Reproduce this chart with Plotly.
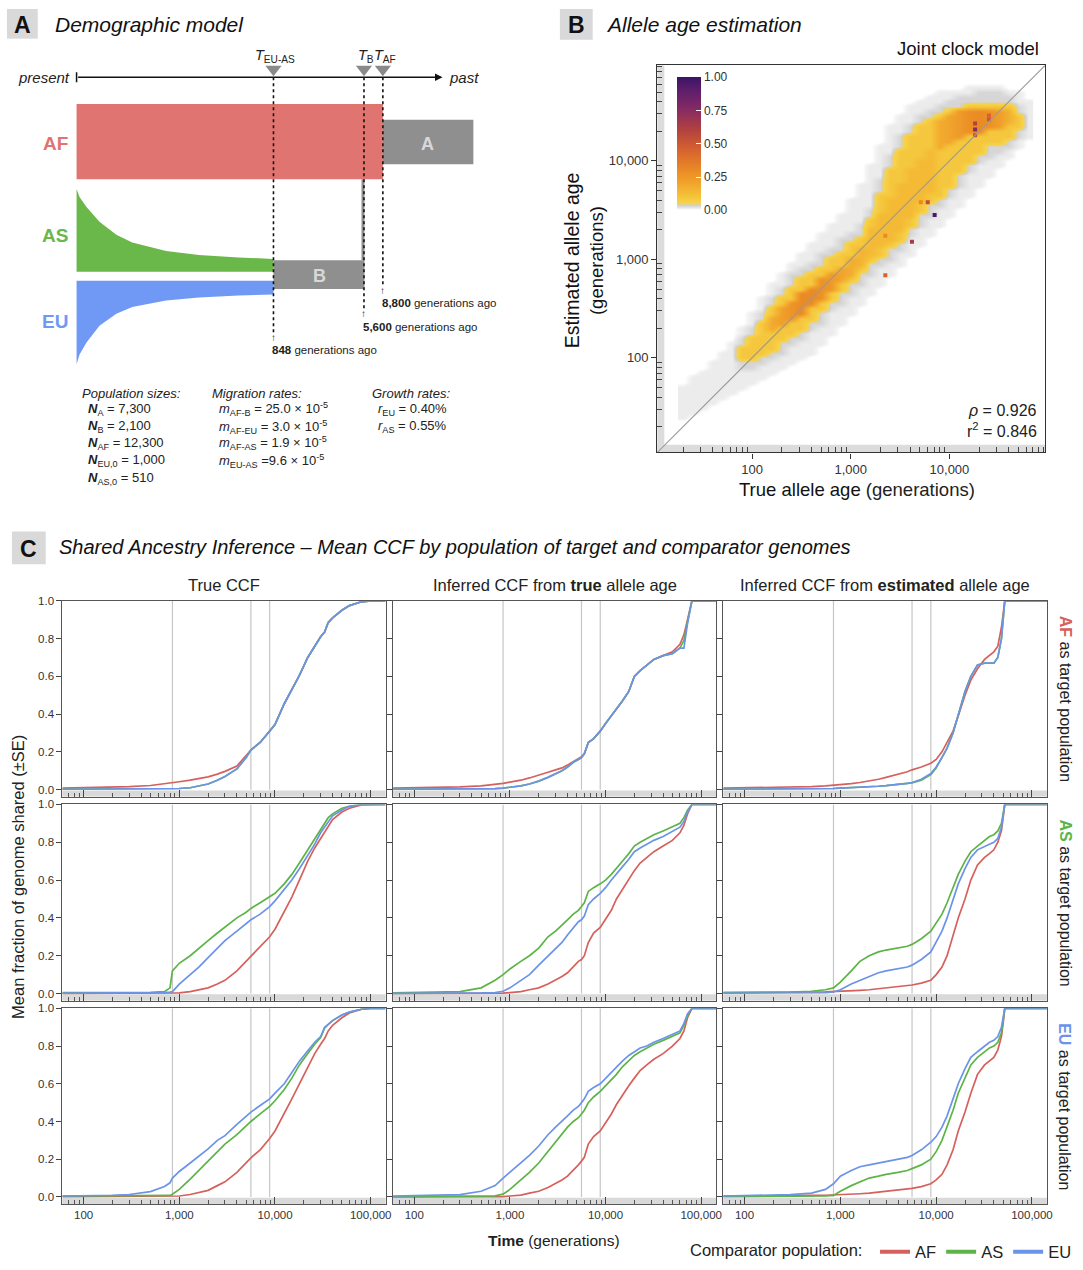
import numpy as np
import plotly.graph_objects as go

W, H = 1083, 1270
FONT = "Liberation Sans, Arial, Helvetica, sans-serif"
INK = "#222222"

# colours
af_col = "#d6605c"
as_col = "#5cb446"
eu_col = "#6b93e8"
af_block_col = "#e07470"
as_block_col = "#6bb84a"
eu_block_col = "#7099f5"
anc_col = "#8f8f8f"


def px(x):
    return x / W


def py(y):
    return 1 - y / H


# ---------------- panel C data (mean CCF) ----------------
SPLIT_GEN = [848, 5600, 8800]
COMPARATORS = ["AF", "AS", "EU"]
TARGETS = ["AF", "AS", "EU"]

GEN_TRUE = [60, 100, 200, 300, 500, 700, 800, 848, 1000, 1300, 1600, 2000, 2500, 3000,
            4000, 5000, 5600, 7000, 8800, 10000, 12500, 15000, 18000, 22000,
            26000, 30000, 33000, 36000, 40000, 50000, 60000, 80000, 100000, 143000]

true_AF_vs_AF = [0.008, 0.01, 0.013, 0.016, 0.022, 0.03, 0.035, 0.037, 0.042, 0.05, 0.058, 0.068, 0.082, 0.097,
                 0.125, 0.18, 0.21, 0.25, 0.31, 0.345, 0.455, 0.53, 0.605, 0.7,
                 0.76, 0.81, 0.835, 0.885, 0.91, 0.95, 0.975, 0.995, 1.0, 1.0]
true_AF_vs_AS = [0.002, 0.002, 0.002, 0.002, 0.002, 0.003, 0.0035, 0.004, 0.006, 0.01, 0.018, 0.03, 0.05, 0.07,
                 0.11, 0.17, 0.21, 0.25, 0.31, 0.345, 0.455, 0.53, 0.605, 0.7,
                 0.76, 0.81, 0.835, 0.885, 0.91, 0.95, 0.975, 0.995, 1.0, 1.0]
true_AF_vs_EU = [0.002, 0.002, 0.002, 0.002, 0.002, 0.003, 0.0035, 0.004, 0.006, 0.01, 0.018, 0.03, 0.05, 0.07,
                 0.11, 0.17, 0.21, 0.25, 0.31, 0.345, 0.455, 0.53, 0.605, 0.7,
                 0.76, 0.81, 0.835, 0.885, 0.91, 0.95, 0.975, 0.995, 1.0, 1.0]

true_AS_vs_AF = [0.0, 0.0, 0.0, 0.0, 0.0, 0.001, 0.002, 0.002, 0.003, 0.01, 0.02, 0.03, 0.05, 0.07,
                 0.12, 0.17, 0.2, 0.25, 0.3, 0.34, 0.43, 0.51, 0.6, 0.7,
                 0.77, 0.82, 0.86, 0.89, 0.92, 0.96, 0.98, 0.998, 1.0, 1.0]
true_AS_vs_AS = [0.005, 0.005, 0.005, 0.005, 0.006, 0.01, 0.03, 0.12, 0.16, 0.2, 0.24, 0.28, 0.32, 0.35,
                 0.4, 0.43, 0.45, 0.48, 0.51, 0.53, 0.58, 0.63, 0.69, 0.76,
                 0.82, 0.87, 0.9, 0.93, 0.95, 0.98, 0.99, 1.0, 1.0, 1.0]
true_AS_vs_EU = [0.002, 0.002, 0.002, 0.002, 0.003, 0.005, 0.008, 0.01, 0.05, 0.1, 0.14, 0.19, 0.24, 0.28,
                 0.33, 0.37, 0.39, 0.42, 0.46, 0.49, 0.55, 0.6, 0.66, 0.73,
                 0.79, 0.85, 0.88, 0.91, 0.94, 0.97, 0.99, 1.0, 1.0, 1.0]

true_EU_vs_AF = [0.001, 0.001, 0.001, 0.001, 0.001, 0.002, 0.002, 0.002, 0.005, 0.013, 0.023, 0.035, 0.06, 0.08,
                 0.13, 0.18, 0.207, 0.25, 0.31, 0.35, 0.44, 0.52, 0.6, 0.69,
                 0.76, 0.81, 0.84, 0.88, 0.91, 0.95, 0.975, 0.995, 1.0, 1.0]
true_EU_vs_AS = [0.005, 0.005, 0.005, 0.005, 0.005, 0.006, 0.008, 0.014, 0.04, 0.095, 0.14, 0.19, 0.24, 0.28,
                 0.33, 0.38, 0.4, 0.44, 0.48, 0.51, 0.57, 0.63, 0.7, 0.76,
                 0.81, 0.845, 0.895, 0.915, 0.935, 0.965, 0.98, 0.995, 1.0, 1.0]
true_EU_vs_EU = [0.005, 0.006, 0.009, 0.013, 0.028, 0.055, 0.075, 0.1, 0.135, 0.18, 0.215, 0.255, 0.3, 0.325,
                 0.385, 0.43, 0.45, 0.485, 0.52, 0.55, 0.6, 0.66, 0.72, 0.775,
                 0.82, 0.85, 0.9, 0.915, 0.935, 0.965, 0.98, 0.995, 1.0, 1.0]

GEN_INF_TRUE = [60, 100, 200, 300, 500, 700, 848, 1000, 1300, 1600, 2000, 2500, 3000,
                3500, 4000, 4600, 5200, 5600, 6000, 6600, 7500, 8800, 10000,
                11500, 13000, 15000, 17500, 20000, 23000, 27000, 32000, 40000, 50000,
                60000, 66000, 72000, 80000, 100000, 143000]

inftrue_AF_vs_AF = [0.008, 0.01, 0.012, 0.015, 0.02, 0.027, 0.033, 0.04, 0.05, 0.062, 0.075, 0.092, 0.105,
                    0.115, 0.13, 0.15, 0.165, 0.175, 0.19, 0.25, 0.27, 0.31, 0.35,
                    0.39, 0.43, 0.47, 0.52, 0.6, 0.63, 0.66, 0.69, 0.71, 0.73,
                    0.77, 0.82, 0.9, 1.0, 1.0, 1.0]
inftrue_AF_vs_AS = [0.002, 0.002, 0.002, 0.003, 0.003, 0.005, 0.008, 0.012, 0.02, 0.03, 0.045, 0.065, 0.085,
                    0.1, 0.12, 0.145, 0.16, 0.17, 0.19, 0.25, 0.27, 0.31, 0.35,
                    0.39, 0.43, 0.47, 0.52, 0.6, 0.63, 0.66, 0.69, 0.71, 0.72,
                    0.75, 0.79, 0.89, 1.0, 1.0, 1.0]
inftrue_AF_vs_EU = [0.002, 0.002, 0.002, 0.003, 0.003, 0.005, 0.008, 0.012, 0.02, 0.03, 0.045, 0.065, 0.085,
                    0.1, 0.12, 0.145, 0.16, 0.17, 0.19, 0.25, 0.27, 0.31, 0.35,
                    0.39, 0.43, 0.47, 0.52, 0.6, 0.63, 0.66, 0.69, 0.71, 0.72,
                    0.75, 0.75, 0.88, 1.0, 1.0, 1.0]

inftrue_AS_vs_AF = [0.0, 0.0, 0.0, 0.0, 0.0, 0.001, 0.002, 0.005, 0.01, 0.02, 0.03, 0.05, 0.07,
                    0.09, 0.11, 0.14, 0.17, 0.18, 0.2, 0.27, 0.32, 0.35, 0.39,
                    0.44, 0.5, 0.55, 0.6, 0.65, 0.69, 0.72, 0.75, 0.78, 0.81,
                    0.85, 0.89, 0.95, 1.0, 1.0, 1.0]
inftrue_AS_vs_AS = [0.003, 0.004, 0.006, 0.01, 0.03, 0.07, 0.1, 0.13, 0.17, 0.2, 0.24, 0.3, 0.33,
                    0.36, 0.39, 0.42, 0.44, 0.46, 0.48, 0.54, 0.56, 0.58, 0.6,
                    0.63, 0.66, 0.7, 0.74, 0.78, 0.8, 0.82, 0.84, 0.86, 0.88,
                    0.9, 0.93, 0.97, 1.0, 1.0, 1.0]
inftrue_AS_vs_EU = [0.001, 0.001, 0.001, 0.002, 0.003, 0.005, 0.012, 0.03, 0.07, 0.1, 0.15, 0.2, 0.24,
                    0.27, 0.31, 0.35, 0.38, 0.39, 0.41, 0.47, 0.5, 0.53, 0.56,
                    0.6, 0.63, 0.67, 0.71, 0.75, 0.77, 0.79, 0.81, 0.83, 0.86,
                    0.88, 0.91, 0.96, 1.0, 1.0, 1.0]

inftrue_EU_vs_AF = [0.0, 0.0, 0.0, 0.0, 0.0, 0.001, 0.002, 0.005, 0.01, 0.02, 0.03, 0.05, 0.07,
                    0.09, 0.11, 0.14, 0.17, 0.19, 0.21, 0.28, 0.32, 0.35, 0.39,
                    0.44, 0.49, 0.54, 0.59, 0.63, 0.67, 0.7, 0.73, 0.76, 0.8,
                    0.84, 0.88, 0.95, 1.0, 1.0, 1.0]
inftrue_EU_vs_AS = [0.002, 0.002, 0.002, 0.003, 0.004, 0.006, 0.015, 0.04, 0.09, 0.13, 0.18, 0.24, 0.29,
                    0.33, 0.37, 0.4, 0.42, 0.44, 0.46, 0.5, 0.53, 0.56, 0.59,
                    0.62, 0.65, 0.69, 0.72, 0.75, 0.77, 0.79, 0.81, 0.83, 0.85,
                    0.87, 0.91, 0.96, 1.0, 1.0, 1.0]
inftrue_EU_vs_EU = [0.005, 0.006, 0.008, 0.012, 0.03, 0.06, 0.1, 0.13, 0.18, 0.22, 0.27, 0.33, 0.37,
                    0.4, 0.43, 0.46, 0.48, 0.5, 0.52, 0.56, 0.58, 0.6, 0.63,
                    0.66, 0.69, 0.72, 0.75, 0.77, 0.79, 0.8, 0.82, 0.84, 0.86,
                    0.88, 0.92, 0.97, 1.0, 1.0, 1.0]

GEN_INF_EST = [60, 100, 200, 300, 500, 700, 848, 1000, 1300, 1600, 2000, 2500, 3000,
               4000, 5000, 5600, 7000, 8800, 10000, 11500, 13000, 15000, 17000,
               20000, 23000, 27000, 32000, 36000, 40000, 44000, 48000, 50000, 52000,
               60000, 80000, 100000, 143000]

infest_AF_vs_AF = [0.008, 0.009, 0.011, 0.013, 0.016, 0.02, 0.023, 0.026, 0.032, 0.038, 0.045, 0.055, 0.065,
                   0.08, 0.095, 0.105, 0.12, 0.14, 0.16, 0.2, 0.25, 0.31, 0.39,
                   0.5, 0.58, 0.64, 0.69, 0.71, 0.73, 0.76, 0.86, 0.93, 1.0,
                   1.0, 1.0, 1.0, 1.0]
infest_AF_vs_AS = [0.002, 0.002, 0.003, 0.003, 0.004, 0.005, 0.006, 0.008, 0.01, 0.012, 0.015, 0.018, 0.021,
                   0.027, 0.033, 0.036, 0.05, 0.08, 0.115, 0.17, 0.22, 0.3, 0.4,
                   0.52, 0.6, 0.66, 0.67, 0.67, 0.67, 0.7, 0.8, 0.9, 1.0,
                   1.0, 1.0, 1.0, 1.0]
infest_AF_vs_EU = [0.002, 0.002, 0.003, 0.003, 0.004, 0.005, 0.006, 0.008, 0.01, 0.012, 0.015, 0.018, 0.021,
                   0.027, 0.033, 0.038, 0.055, 0.085, 0.12, 0.17, 0.22, 0.3, 0.4,
                   0.52, 0.6, 0.66, 0.67, 0.67, 0.67, 0.7, 0.8, 0.9, 1.0,
                   1.0, 1.0, 1.0, 1.0]

infest_AS_vs_AF = [0.005, 0.005, 0.006, 0.007, 0.008, 0.009, 0.01, 0.012, 0.014, 0.017, 0.02, 0.025, 0.03,
                   0.035, 0.04, 0.045, 0.055, 0.07, 0.1, 0.14, 0.2, 0.3, 0.4,
                   0.5, 0.6, 0.68, 0.72, 0.74, 0.76, 0.8, 0.86, 0.93, 1.0,
                   1.0, 1.0, 1.0, 1.0]
infest_AS_vs_AS = [0.005, 0.005, 0.006, 0.008, 0.012, 0.02, 0.03, 0.06, 0.12, 0.17, 0.2, 0.22, 0.23,
                   0.24, 0.25, 0.26, 0.29, 0.33, 0.37, 0.42, 0.48, 0.56, 0.63,
                   0.7, 0.75, 0.78, 0.81, 0.83, 0.84, 0.86, 0.9, 0.95, 1.0,
                   1.0, 1.0, 1.0, 1.0]
infest_AS_vs_EU = [0.002, 0.002, 0.003, 0.003, 0.004, 0.004, 0.008, 0.02, 0.05, 0.07, 0.09, 0.11, 0.12,
                   0.13, 0.14, 0.15, 0.18, 0.22, 0.27, 0.33, 0.4, 0.5, 0.58,
                   0.66, 0.72, 0.76, 0.78, 0.79, 0.8, 0.82, 0.88, 0.94, 1.0,
                   1.0, 1.0, 1.0, 1.0]

infest_EU_vs_AF = [0.005, 0.005, 0.006, 0.007, 0.008, 0.009, 0.01, 0.012, 0.014, 0.017, 0.02, 0.025, 0.03,
                   0.035, 0.04, 0.045, 0.055, 0.07, 0.09, 0.12, 0.17, 0.25, 0.35,
                   0.45, 0.55, 0.65, 0.7, 0.72, 0.74, 0.78, 0.85, 0.92, 1.0,
                   1.0, 1.0, 1.0, 1.0]
infest_EU_vs_AS = [0.002, 0.002, 0.003, 0.003, 0.004, 0.005, 0.008, 0.03, 0.06, 0.08, 0.1, 0.11, 0.12,
                   0.13, 0.14, 0.15, 0.17, 0.2, 0.24, 0.3, 0.37, 0.46, 0.55,
                   0.63, 0.7, 0.74, 0.77, 0.79, 0.8, 0.82, 0.87, 0.93, 1.0,
                   1.0, 1.0, 1.0, 1.0]
infest_EU_vs_EU = [0.005, 0.006, 0.008, 0.012, 0.02, 0.04, 0.07, 0.11, 0.14, 0.16, 0.17, 0.18, 0.19,
                   0.2, 0.21, 0.22, 0.25, 0.29, 0.32, 0.37, 0.43, 0.52, 0.6,
                   0.68, 0.74, 0.77, 0.8, 0.82, 0.83, 0.85, 0.9, 0.95, 1.0,
                   1.0, 1.0, 1.0, 1.0]

# ---------------- panel B data (log10 of true / estimated age) ----------------
B_LOG_TRUE = [1.3, 1.4, 1.5, 1.6, 1.7, 1.8, 1.9, 2.0, 2.1, 2.2, 2.3, 2.4,
              2.5, 2.6, 2.7, 2.8, 2.9, 3.0, 3.1, 3.2, 3.3, 3.4, 3.5, 3.6,
              3.7, 3.8, 3.9, 4.0, 4.1, 4.2, 4.3, 4.4, 4.5, 4.6, 4.7, 4.8]
B_HALO_LO = [1.4, 1.45, 1.5, 1.55, 1.6, 1.65, 1.7, 1.75, 1.8, 1.85, 1.9, 1.95,
             2.0, 2.05, 2.15, 2.25, 2.35, 2.45, 2.55, 2.65, 2.75, 2.85, 2.95, 3.05,
             3.15, 3.25, 3.35, 3.45, 3.55, 3.65, 3.75, 3.85, 3.95, 4.05, 4.15, 4.25]
B_HALO_HI = [1.7, 1.8, 1.85, 1.95, 2.05, 2.15, 2.3, 2.45, 2.6, 2.75, 2.85, 2.95,
             3.05, 3.15, 3.25, 3.35, 3.45, 3.6, 3.75, 3.95, 4.15, 4.35, 4.45, 4.55,
             4.6, 4.65, 4.7, 4.72, 4.73, 4.75, 4.75, 4.76, 4.75, 4.73, 4.7, 4.62]
B_BAND_LO = [0, 0, 0, 0, 0, 0, 2.0, 2.0, 2.05, 2.1, 2.17, 2.23,
             2.3, 2.38, 2.47, 2.58, 2.67, 2.76, 2.86, 2.96, 3.03, 3.12, 3.2, 3.33,
             3.47, 3.56, 3.64, 3.74, 3.86, 3.98, 4.09, 4.16, 4.2, 4.25, 4.35, 0]
B_BAND_HI = [0, 0, 0, 0, 0, 0, 2.1, 2.2, 2.36, 2.5, 2.62, 2.73,
             2.8, 2.86, 2.93, 3.01, 3.08, 3.16, 3.24, 3.42, 3.68, 3.94, 4.14, 4.27,
             4.36, 4.42, 4.47, 4.51, 4.54, 4.56, 4.58, 4.59, 4.59, 4.57, 4.45, 0]
B_CORE_LO = [0, 0, 0, 0, 0, 0, 0, 0, 0, 2.28, 2.33, 2.4,
             2.45, 2.52, 2.6, 2.68, 2.76, 2.85, 2.94, 3.05, 3.12, 3.2, 3.3, 3.45,
             3.6, 3.7, 4.15, 4.2, 4.24, 4.28, 4.3, 4.32, 4.35, 4.36, 0, 0]
B_CORE_HI = [0, 0, 0, 0, 0, 0, 0, 0, 0, 2.42, 2.5, 2.58,
             2.66, 2.72, 2.8, 2.86, 2.94, 3.02, 3.1, 3.3, 3.45, 3.6, 3.75, 3.9,
             4.0, 4.1, 4.42, 4.46, 4.5, 4.52, 4.54, 4.54, 4.52, 4.5, 0, 0]
B_CORE_VAL = [0, 0, 0, 0, 0, 0, 0, 0, 0, 0.18, 0.22, 0.26,
              0.3, 0.3, 0.27, 0.24, 0.2, 0.17, 0.15, 0.13, 0.13, 0.13, 0.13, 0.13,
              0.13, 0.13, 0.18, 0.2, 0.24, 0.28, 0.3, 0.27, 0.22, 0.16, 0, 0]
# isolated strongly coloured cells
B_OUT_TRUE = [3.71, 3.78, 3.85, 3.62, 3.35, 3.35, 4.26, 4.26, 4.26, 4.4, 4.4]
B_OUT_EST = [3.58, 3.58, 3.45, 3.18, 2.84, 3.24, 4.26, 4.32, 4.38, 4.42, 4.46]
B_OUT_VAL = [0.3, 0.55, 0.95, 0.65, 0.45, 0.3, 0.55, 0.75, 0.6, 0.5, 0.45]
B_RANGE = [1.04, 4.97]
B_HALO_VAL = 0.012
B_HALO_NEAR_VAL = 0.03
B_BAND_VAL = 0.09

# ---------------- panel A data (schematic, diagram units) ----------------
A_SPLIT_POS = [275, 366, 385]
A_SPLIT_LABELS = ["<i>T</i><sub>EU-AS</sub>", "<i>T</i><sub>B</sub>", "<i>T</i><sub>AF</sub>"]
A_SPLIT_LINE_END = [330, 306, 282]
A_SPLIT_TEXT = ["<b>848</b> generations ago", "<b>5,600</b> generations ago", "<b>8,800</b> generations ago"]
A_TIMELINE = [77, 445]
AF_BLOCK = [77, 385, 99, 175]
ANC_BLOCK = [385, 476, 115, 160]
B_BLOCK = [275, 366.5, 257, 286]
B_LINK = [363.5, 366.5, 175, 257]
AS_EDGE_X = [77, 80, 87, 100, 117, 133, 167, 200, 240, 275]
AS_TOP_Y = [185, 193, 203, 218, 231, 239, 247.5, 251.5, 254, 255.5]
AS_BASE_Y = 268.5
EU_BOT_Y = [362, 352, 340, 323, 311, 304, 297.5, 294.5, 292.5, 291.5]
EU_BASE_Y = 277.5

POP_SIZES = ["<b><i>N</i></b><sub>A</sub> = 7,300", "<b><i>N</i></b><sub>B</sub> = 2,100",
             "<b><i>N</i></b><sub>AF</sub> = 12,300", "<b><i>N</i></b><sub>EU,0</sub> = 1,000",
             "<b><i>N</i></b><sub>AS,0</sub> = 510"]
MIG_RATES = ["<i>m</i><sub>AF-B</sub> = 25.0 × 10<sup>-5</sup>", "<i>m</i><sub>AF-EU</sub> = 3.0 × 10<sup>-5</sup>",
             "<i>m</i><sub>AF-AS</sub> = 1.9 × 10<sup>-5</sup>", "<i>m</i><sub>EU-AS</sub> =9.6 × 10<sup>-5</sup>"]
GROWTH_RATES = ["<i>r</i><sub>EU</sub> = 0.40%", "<i>r</i><sub>AS</sub> = 0.55%"]

fig = go.Figure()
annotations = []
shapes = []
layout = {}


def note(text, x, y, size=13, xanchor="center", yanchor="middle", color=INK, angle=0, ref=("paper", "paper")):
    annotations.append(dict(text=text, x=x, y=y, xref=ref[0], yref=ref[1], showarrow=False,
                            xanchor=xanchor, yanchor=yanchor, textangle=angle,
                            font=dict(size=size, color=color, family=FONT)))


def letter_box(letter, x0, y0, x1, y1):
    shapes.append(dict(type="rect", xref="paper", yref="paper", x0=px(x0), x1=px(x1),
                       y0=py(y1), y1=py(y0), fillcolor="#d9d9d9", line=dict(width=0)))
    note("<b>%s</b>" % letter, px((x0 + x1) / 2), py((y0 + y1) / 2 + 1), size=23, color="#111")


# ---------------- panel C ----------------
col_left = [62.7, 395.3, 727.3]
col_right = [387.7, 720.0, 1052.7]
row_top = [601.0, 806.7, 1012.7]
row_bot = [799.0, 1005.0, 1210.5]
Y_RANGE = [-0.038, 1.0]

grids = [GEN_TRUE, GEN_INF_TRUE, GEN_INF_EST]
series = {
    (0, 0): [true_AF_vs_AF, true_AF_vs_AS, true_AF_vs_EU],
    (1, 0): [true_AS_vs_AF, true_AS_vs_AS, true_AS_vs_EU],
    (2, 0): [true_EU_vs_AF, true_EU_vs_AS, true_EU_vs_EU],
    (0, 1): [inftrue_AF_vs_AF, inftrue_AF_vs_AS, inftrue_AF_vs_EU],
    (1, 1): [inftrue_AS_vs_AF, inftrue_AS_vs_AS, inftrue_AS_vs_EU],
    (2, 1): [inftrue_EU_vs_AF, inftrue_EU_vs_AS, inftrue_EU_vs_EU],
    (0, 2): [infest_AF_vs_AF, infest_AF_vs_AS, infest_AF_vs_EU],
    (1, 2): [infest_AS_vs_AF, infest_AS_vs_AS, infest_AS_vs_EU],
    (2, 2): [infest_EU_vs_AF, infest_EU_vs_AS, infest_EU_vs_EU],
}
line_cols = [af_col, as_col, eu_col]

major_gen = [100, 1000, 10000, 100000]
minor_gen = [m * 10 ** e for e in range(1, 6) for m in range(2, 10) if 60 <= m * 10 ** e <= 143000]

for r in range(3):
    for c in range(3):
        k = r * 3 + c + 1
        xa = "x" if k == 1 else "x%d" % k
        ya = "y" if k == 1 else "y%d" % k
        # split-time guide lines
        vx, vy = [], []
        for t in SPLIT_GEN:
            vx += [t, t, None]
            vy += [0, 1.0, None]
        fig.add_trace(go.Scatter(x=vx, y=vy, mode="lines", xaxis=xa, yaxis=ya,
                                 line=dict(color="#c6c6c6", width=1.2), showlegend=False, hoverinfo="skip"))
        for i, comp in enumerate(COMPARATORS):
            fig.add_trace(go.Scatter(x=grids[c], y=series[(r, c)][i], mode="lines", xaxis=xa, yaxis=ya,
                                     name=comp, legendgroup=comp, showlegend=False,
                                     line=dict(color=line_cols[i], width=1.7)))
        layout["xaxis" if k == 1 else "xaxis%d" % k] = dict(
            type="log", range=[np.log10(60), np.log10(143000)],
            domain=[px(col_left[c]), px(col_right[c])], anchor=ya,
            showline=True, mirror=True, linecolor="#555", linewidth=1,
            ticks="inside", ticklen=7, tickcolor="#444", tickvals=major_gen,
            ticktext=["100", "1,000", "10,000", "100,000"], showticklabels=(r == 2),
            tickfont=dict(size=11.5, color="#333"),
            minor=dict(ticks="inside", ticklen=4, tickcolor="#555", tickmode="array", tickvals=minor_gen),
            showgrid=False, zeroline=False)
        layout["yaxis" if k == 1 else "yaxis%d" % k] = dict(
            range=Y_RANGE, domain=[py(row_bot[r]), py(row_top[r])], anchor=xa,
            showline=True, mirror=True, linecolor="#555", linewidth=1,
            ticks="outside", ticklen=5, tickcolor="#444",
            tickvals=[0, 0.2, 0.4, 0.6, 0.8, 1.0], ticktext=["0.0", "0.2", "0.4", "0.6", "0.8", "1.0"],
            showticklabels=(c == 0), tickfont=dict(size=11.5, color="#333"),
            showgrid=False, zeroline=False)
        shapes.append(dict(type="rect", xref=xa + " domain", yref=ya, x0=0, x1=1, y0=Y_RANGE[0], y1=-0.004,
                           fillcolor="#d9d9d9", line=dict(width=0), layer="below"))

# legend entries (thicker swatches, as in the reference key)
for i, comp in enumerate(COMPARATORS):
    fig.add_trace(go.Scatter(x=[None], y=[None], mode="lines", name=comp, legendgroup=comp,
                             line=dict(color=line_cols[i], width=4), xaxis="x", yaxis="y"))

col_titles = ["True CCF", "Inferred CCF from <b>true</b> allele age", "Inferred CCF from <b>estimated</b> allele age"]
for c in range(3):
    note(col_titles[c], px((col_left[c] + col_right[c]) / 2), py(585), size=16.5)
for r, tgt in enumerate(TARGETS):
    colr = line_cols[r]
    note('<b><span style="color:%s">%s</span></b> as target population' % (colr, tgt),
         px(1071), py((row_top[r] + row_bot[r]) / 2), size=16, angle=90)
note("Mean fraction of genome shared (±SE)", px(18), py(880), size=16.5, angle=-90)
note("<b>Time</b> (generations)", px(557), py(1247), size=15.5)
letter_box("C", 12, 531, 46, 564)
note("<i>Shared Ancestry Inference – Mean CCF by population of target and comparator genomes</i>",
     px(57), py(547), size=20, xanchor="left", color="#111")

# ---------------- panel B ----------------
b_rows = np.round(np.arange(1.1, 4.951, 0.05), 3)
z = [[0.0] * len(B_LOG_TRUE) for _ in b_rows]
for j in range(len(B_LOG_TRUE)):
    for i, yc in enumerate(b_rows):
        v = 0.0
        if B_HALO_LO[j] <= yc <= B_HALO_HI[j]:
            v = B_HALO_VAL
            if B_BAND_HI[j] > 0 and B_BAND_LO[j] - 0.12 <= yc <= B_BAND_HI[j] + 0.12:
                v = B_HALO_NEAR_VAL
        if B_BAND_HI[j] > 0 and B_BAND_LO[j] <= yc <= B_BAND_HI[j]:
            v = B_BAND_VAL
        if B_CORE_VAL[j] > 0 and B_CORE_LO[j] <= yc <= B_CORE_HI[j]:
            v = B_CORE_VAL[j]
        z[i][j] = v

b_scale = [[0.0, "rgba(255,255,255,0)"], [0.006, "#f3f3f3"], [0.035, "#d0d0d0"], [0.05, "#f7d44c"],
           [0.1, "#f5c43a"], [0.2, "#f1a42c"], [0.3, "#ea8a25"], [0.45, "#d6632f"],
           [0.6, "#b3423e"], [0.75, "#872b62"], [0.9, "#5d1e6c"], [1.0, "#3b1466"]]
fig.add_trace(go.Heatmap(x=B_LOG_TRUE, y=b_rows, z=z, zmin=0, zmax=1, colorscale=b_scale,
                         zsmooth="best", xaxis="x10", yaxis="y10", hoverinfo="skip",
                         colorbar=dict(x=px(681), xanchor="left", y=py(72), yanchor="top",
                                       len=133, lenmode="pixels", thickness=24, thicknessmode="pixels",
                                       tickvals=[0, 0.25, 0.5, 0.75, 1.0],
                                       ticktext=["0.00", "0.25", "0.50", "0.75", "1.00"],
                                       ticks="inside", tickcolor="white", ticklen=5,
                                       tickfont=dict(size=12, color="#333", family=FONT),
                                       outlinewidth=0, xpad=0, ypad=0)))
fig.add_trace(go.Scatter(x=B_OUT_TRUE, y=B_OUT_EST, mode="markers", xaxis="x10", yaxis="y10",
                         marker=dict(symbol="square", size=4, color=B_OUT_VAL, cmin=0, cmax=1,
                                     colorscale=b_scale, line=dict(width=0)),
                         showlegend=False, hoverinfo="skip"))
fig.add_trace(go.Scatter(x=B_RANGE, y=B_RANGE, mode="lines", xaxis="x10", yaxis="y10",
                         line=dict(color="#9a9a9a", width=1.2), showlegend=False, hoverinfo="skip"))

b_major = [2, 3, 4]
b_minor = [np.log10(m * 10 ** e) for e in range(1, 5) for m in range(2, 10)
           if B_RANGE[0] <= np.log10(m * 10 ** e) <= B_RANGE[1]]
b_axis = dict(range=B_RANGE, showline=True, mirror=True, linecolor="#333", linewidth=1.3,
              tickvals=b_major, ticktext=["100", "1,000", "10,000"], ticks="outside", ticklen=5,
              tickcolor="#333", tickfont=dict(size=13, color="#333"),
              minor=dict(ticks="inside", ticklen=5, tickcolor="#444", tickmode="array", tickvals=b_minor),
              showgrid=False, zeroline=False)
layout["xaxis10"] = dict(b_axis, domain=[px(661), px(1051)], anchor="y10")
layout["yaxis10"] = dict(b_axis, domain=[py(451), py(60)], anchor="x10")
shapes.append(dict(type="rect", xref="x10 domain", yref="y10 domain", x0=0, x1=0.018, y0=0, y1=1,
                   fillcolor="#dcdcdc", line=dict(width=0), layer="below"))
shapes.append(dict(type="rect", xref="x10 domain", yref="y10 domain", x0=0, x1=1, y0=0, y1=0.02,
                   fillcolor="#dcdcdc", line=dict(width=0), layer="below"))
letter_box("B", 563, 3, 596, 34)
note("<i>Allele age estimation</i>", px(607), py(19), size=21, xanchor="left", color="#111")
note("Joint clock model", px(1047), py(43), size=18.5, xanchor="right", color="#111")
note("True allele age <span style='color:#222'>(generations)</span>", px(862), py(488), size=18.5, color="#111")
note("Estimated allele age", px(576), py(257), size=19.5, angle=-90, color="#111")
note("(generations)", px(600), py(257), size=18.5, angle=-90, color="#111")
note("<i>ρ</i> = 0.926", px(1045), py(409), size=16, xanchor="right")
note("r<sup>2</sup> = 0.846", px(1045), py(428), size=16, xanchor="right")

# ---------------- panel A ----------------
AREF = ("x11", "y11")


def block(rect, colour):
    x0, x1, y0, y1 = rect
    fig.add_trace(go.Scatter(x=[x0, x1, x1, x0, x0], y=[y0, y0, y1, y1, y0], mode="lines",
                             fill="toself", fillcolor=colour, line=dict(width=0), xaxis="x11", yaxis="y11",
                             showlegend=False, hoverinfo="skip"))


block(AF_BLOCK, af_block_col)
block(ANC_BLOCK, anc_col)
block(B_BLOCK, anc_col)
block(B_LINK, anc_col)
fig.add_trace(go.Scatter(x=AS_EDGE_X + [AS_EDGE_X[-1], AS_EDGE_X[0]],
                         y=AS_TOP_Y + [AS_BASE_Y, AS_BASE_Y], fill="toself", fillcolor=as_block_col,
                         mode="lines", line=dict(width=0), xaxis="x11", yaxis="y11",
                         showlegend=False, hoverinfo="skip"))
fig.add_trace(go.Scatter(x=AS_EDGE_X + [AS_EDGE_X[-1], AS_EDGE_X[0]],
                         y=EU_BOT_Y + [EU_BASE_Y, EU_BASE_Y], fill="toself", fillcolor=eu_block_col,
                         mode="lines", line=dict(width=0), xaxis="x11", yaxis="y11",
                         showlegend=False, hoverinfo="skip"))

dx, dy = [], []
for pos, end in zip(A_SPLIT_POS, A_SPLIT_LINE_END):
    dx += [pos, pos, None]
    dy += [72, end, None]
fig.add_trace(go.Scatter(x=dx, y=dy, mode="lines", line=dict(color="#111", width=1.6, dash="dot"),
                         xaxis="x11", yaxis="y11", showlegend=False, hoverinfo="skip"))
fig.add_trace(go.Scatter(x=A_SPLIT_POS, y=[64, 64, 64], mode="markers",
                         marker=dict(symbol="triangle-down", size=14, color="#8a8a8a"),
                         xaxis="x11", yaxis="y11", showlegend=False, hoverinfo="skip"))
fig.add_trace(go.Scatter(x=[A_TIMELINE[0], A_TIMELINE[0]], y=[67, 77], mode="lines",
                         line=dict(color="#111", width=1.5), xaxis="x11", yaxis="y11",
                         showlegend=False, hoverinfo="skip"))
annotations.append(dict(x=A_TIMELINE[1], y=72, ax=A_TIMELINE[0], ay=72, xref="x11", yref="y11",
                        axref="x11", ayref="y11", text="", showarrow=True, arrowhead=2,
                        arrowsize=1, arrowwidth=1.5, arrowcolor="#111"))
layout["xaxis11"] = dict(domain=[0, px(540)], range=[0, 540], visible=False, anchor="y11")
layout["yaxis11"] = dict(domain=[py(500), py(40)], range=[500, 40], visible=False, anchor="x11")

for pos, lab in zip(A_SPLIT_POS, A_SPLIT_LABELS):
    note(lab, pos + 2, 51, size=14.5, ref=AREF)
for pos, end, lab in zip(A_SPLIT_POS, A_SPLIT_LINE_END, A_SPLIT_TEXT):
    note("↑", pos, end + 5, size=10, ref=AREF)
    note(lab, pos - 3, end + 18, size=11.5, xanchor="left", ref=AREF)
note("<i>present</i>", 72, 72, size=15, xanchor="right", ref=AREF)
note("<i>past</i>", 449, 72, size=15, xanchor="left", ref=AREF)
note("<b>AF</b>", 70, 139, size=19, xanchor="right", color=af_block_col, ref=AREF)
note("<b>AS</b>", 70, 232, size=19, xanchor="right", color=as_block_col, ref=AREF)
note("<b>EU</b>", 70, 319, size=19, xanchor="right", color=eu_block_col, ref=AREF)
note("<b>A</b>", 430, 139, size=18, color="#d8d8d8", ref=AREF)
note("<b>B</b>", 321, 273, size=18, color="#d8d8d8", ref=AREF)

note("<i>Population sizes:</i>", 80, 391, size=13, xanchor="left", ref=AREF)
note("<i>Migration rates:</i>", 211, 391, size=13, xanchor="left", ref=AREF)
note("<i>Growth rates:</i>", 372, 391, size=13, xanchor="left", ref=AREF)
row_ys = [407.5, 425, 442, 459.5, 477]
for t, yy in zip(POP_SIZES, row_ys):
    note(t, 86, yy, size=13, xanchor="left", ref=AREF)
for t, yy in zip(MIG_RATES, row_ys):
    note(t, 218, yy, size=13, xanchor="left", ref=AREF)
for t, yy in zip(GROWTH_RATES, row_ys):
    note(t, 378, yy, size=13, xanchor="left", ref=AREF)
letter_box("A", 7, 3, 38, 33)
note("<i>Demographic model</i>", px(53), py(19), size=21, xanchor="left", color="#111")

fig.update_layout(
    width=W, height=H, margin=dict(l=0, r=0, t=0, b=0),
    paper_bgcolor="white", plot_bgcolor="rgba(0,0,0,0)",
    font=dict(family=FONT, color=INK),
    annotations=annotations, shapes=shapes,
    legend=dict(orientation="h", x=1.0, xanchor="right", y=py(1259), yanchor="middle",
                title=dict(text="Comparator population: ", font=dict(size=16.5, family=FONT)),
                font=dict(size=16.5, family=FONT), bgcolor="rgba(0,0,0,0)", itemwidth=30),
    **layout,
)

# pin the figure to the window corner and let it fill exactly the visible window
pin = ("document.body.style.margin='0px';document.body.style.overflow='hidden';"
       "var g=document.getElementById('{plot_id}');g.style.position='fixed';"
       "g.style.left='0px';g.style.top='0px';"
       "return Plotly.relayout(g, {width: window.innerWidth, height: window.innerHeight});")
fig.write_html("out.html", config=dict(displayModeBar=False), post_script=pin)
